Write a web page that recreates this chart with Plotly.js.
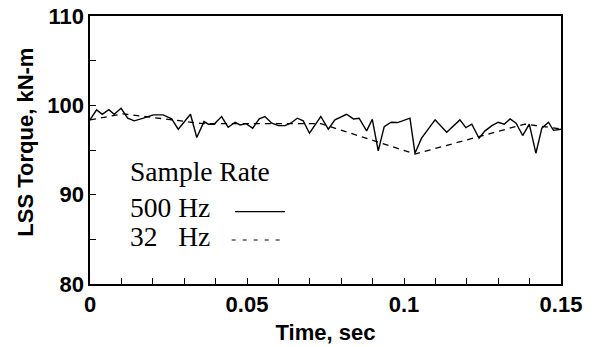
<!DOCTYPE html>
<html>
<head>
<meta charset="utf-8">
<script src="https://cdn.plot.ly/plotly-3.0.1.min.js"></script>
<style>html,body{margin:0;padding:0;background:#fff;}#chart{width:595px;height:347px;}</style>
</head>
<body>
<div id="chart"></div>
<script>
// 500 Hz sampled signal
const time500 = [0, 0.0021, 0.0039, 0.006, 0.0077, 0.0099, 0.012, 0.0141, 0.017, 0.0202,
  0.0233, 0.026, 0.0281, 0.032, 0.034, 0.0363, 0.0377, 0.0395, 0.0419, 0.044,
  0.0462, 0.0478, 0.0497, 0.0518, 0.0539, 0.0557, 0.0579, 0.06, 0.0621, 0.0639,
  0.066, 0.0679, 0.0699, 0.0735, 0.0759, 0.078, 0.0817, 0.0839, 0.0857, 0.0881,
  0.0899, 0.0918, 0.0937, 0.0959, 0.098, 0.1019, 0.1035, 0.1056, 0.1083, 0.1099,
  0.1136, 0.1178, 0.1197, 0.1216, 0.1239, 0.1258, 0.128, 0.13, 0.1319, 0.1338,
  0.1357, 0.1378, 0.1399, 0.142, 0.1439, 0.146, 0.1476, 0.15];
const torque500 = [98.37, 99.49, 99.0, 99.52, 99.0, 99.67, 98.56, 98.26, 98.56, 98.93,
  98.93, 98.48, 97.33, 99.0, 96.4, 98.18, 97.89, 97.89, 98.74, 97.55,
  98.11, 97.81, 97.95, 97.44, 98.48, 98.74, 98.0, 97.73, 97.73, 98.0,
  98.56, 98.26, 96.88, 98.75, 97.33, 98.37, 99.0, 98.48, 98.56, 97.14,
  98.44, 94.9, 97.62, 98.11, 98.07, 98.56, 94.64, 96.32, 97.62, 98.37,
  96.99, 98.37, 97.51, 97.89, 96.32, 97.14, 97.73, 98.11, 97.89, 98.48,
  98.0, 96.62, 97.89, 94.64, 97.44, 98.11, 97.2, 97.33];
// 32 Hz sampled signal
const time32 = [0, 0.0105, 0.036, 0.0735, 0.1035, 0.1385, 0.15];
const torque32 = [98.37, 99.05, 97.95, 97.95, 94.55, 97.9, 97.35];

const xTickVals = [0, 0.05, 0.1, 0.15];
const xTickText = ['0', '0.05', '0.1', '0.15'];
const yTickVals = [80, 90, 100, 110];
const yTickText = ['80', '90', '100', '110'];

const legendTitle = 'Sample Rate';
const legendLabels = ['500 Hz', '32\u00A0\u00A0\u00A0Hz'];

const sansBold = {family: 'Liberation Sans, Arial, sans-serif', size: 22, color: '#000', weight: 'bold'};
const serif = {family: 'Liberation Serif, Times New Roman, serif', size: 27.5, color: '#000'};

const traces = [
  {x: time500, y: torque500, type: 'scatter', mode: 'lines', name: '500 Hz',
   line: {color: '#000', width: 1.4}, showlegend: false},
  {x: time32, y: torque32, type: 'scatter', mode: 'lines', name: '32 Hz',
   line: {color: '#000', width: 1.3, dash: '6px,5px'}, showlegend: false}
];

const layout = {
  width: 595, height: 347,
  margin: {l: 90, r: 34, t: 16, b: 63},
  paper_bgcolor: '#fff', plot_bgcolor: '#fff',
  showlegend: false,
  xaxis: {
    range: [0, 0.15], tickvals: xTickVals, ticktext: xTickText,
    ticks: 'inside', ticklen: 6, tickwidth: 1, tickcolor: '#000',
    minor: {dtick: 0.01, tick0: 0, ticks: 'inside', ticklen: 6, tickwidth: 1, tickcolor: '#000'},
    showline: true, linecolor: '#000', linewidth: 1.6, mirror: true,
    showgrid: false, zeroline: false,
    tickfont: sansBold,
    title: {text: 'Time, sec', font: sansBold, standoff: 8}
  },
  yaxis: {
    range: [80, 110], tickvals: yTickVals, ticktext: yTickText,
    ticks: 'inside', ticklen: 6, tickwidth: 1, tickcolor: '#000',
    minor: {dtick: 5, tick0: 80, ticks: 'inside', ticklen: 6, tickwidth: 1, tickcolor: '#000'},
    showline: true, linecolor: '#000', linewidth: 1.6, mirror: true,
    showgrid: false, zeroline: false,
    tickfont: sansBold
  },
  annotations: [
    {xref: 'paper', yref: 'paper', x: -0.136, y: 0.531, text: 'LSS Torque, kN-m', textangle: -90,
     showarrow: false, font: sansBold, xanchor: 'center', yanchor: 'middle'},
    {xref: 'paper', yref: 'paper', x: 0.081, y: 0.4216, text: legendTitle, showarrow: false,
     font: serif, xanchor: 'left', yanchor: 'middle'},
    {xref: 'paper', yref: 'paper', x: 0.081, y: 0.2870, text: legendLabels[0], showarrow: false,
     font: serif, xanchor: 'left', yanchor: 'middle'},
    {xref: 'paper', yref: 'paper', x: 0.081, y: 0.1780, text: legendLabels[1], showarrow: false,
     font: serif, xanchor: 'left', yanchor: 'middle'}
  ],
  shapes: [
    {type: 'line', xref: 'paper', yref: 'paper', x0: 0.3079, x1: 0.414, y0: 0.2698, y1: 0.2698,
     line: {color: '#000', width: 1.3}},
    {type: 'line', xref: 'paper', yref: 'paper', x0: 0.3008, x1: 0.414, y0: 0.1642, y1: 0.1642,
     line: {color: '#000', width: 1.2, dash: '4px,7px'}}
  ]
};

Plotly.newPlot('chart', traces, layout, {staticPlot: true, displayModeBar: false});
</script>
</body>
</html>
